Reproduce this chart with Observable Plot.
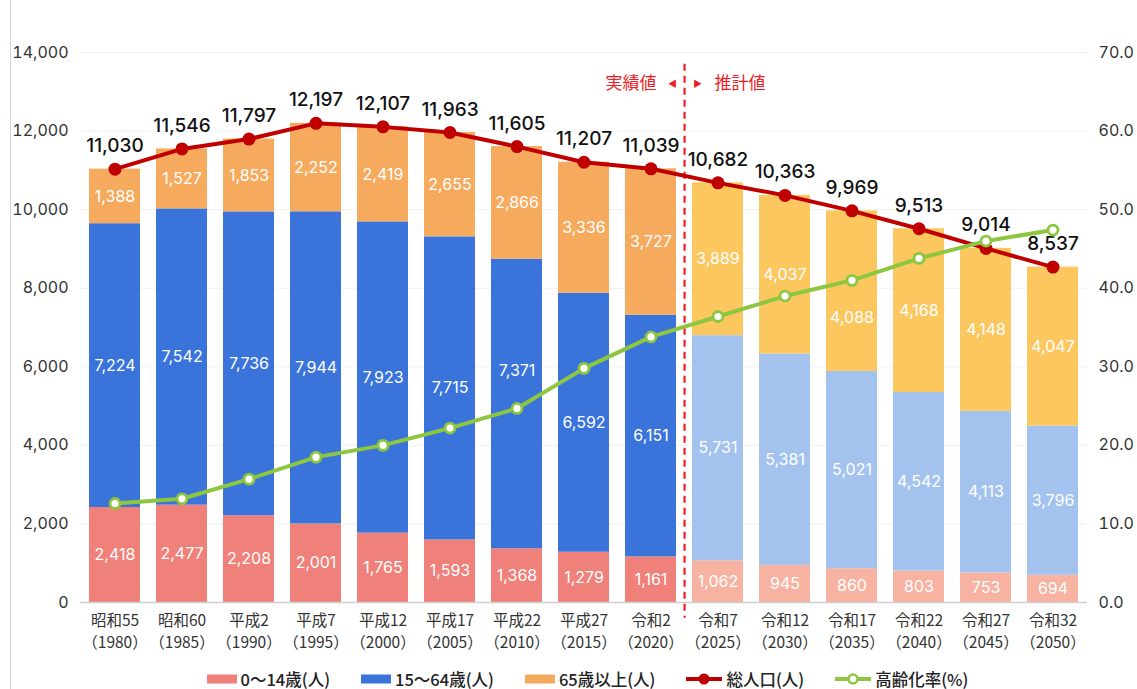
<!DOCTYPE html>
<html>
<head>
<meta charset="utf-8">
<script src="https://cdn.jsdelivr.net/npm/d3@7"></script>
<script src="https://cdn.jsdelivr.net/npm/@observablehq/plot@0.6"></script>
<style>
  html, body { margin: 0; padding: 0; background: #fff; }
  body { width: 1137px; height: 689px; position: relative; overflow: hidden;
         font-family: "Inter", "Noto Sans CJK JP", sans-serif; }
  #frame { position: absolute; left: 10px; top: 0; width: 1px; height: 689px; background: #d6d6d6; }
  #legend { position: absolute; left: 0; top: 670px; height: 18px; width: 1137px; display: flex; justify-content: center;
            align-items: center; gap: 31px; font-family: "Noto Sans CJK JP", sans-serif; font-size: 16.5px; font-weight: 500; color: #222; padding-left: 38px; box-sizing: border-box; line-height: 18px; }
  .item { display: flex; align-items: center; gap: 4px; white-space: nowrap; }
</style>
</head>
<body>
<div id="frame"></div>
<div id="chart"></div>
<div id="legend"></div>
<script>
const eras = ["昭和55","昭和60","平成2","平成7","平成12","平成17","平成22","平成27","令和2","令和7","令和12","令和17","令和22","令和27","令和32"];
const years = [1980,1985,1990,1995,2000,2005,2010,2015,2020,2025,2030,2035,2040,2045,2050];
const age0to14 = [2418,2477,2208,2001,1765,1593,1368,1279,1161,1062,945,860,803,753,694];
const age15to64 = [7224,7542,7736,7944,7923,7715,7371,6592,6151,5731,5381,5021,4542,4113,3796];
const age65plus = [1388,1527,1853,2252,2419,2655,2866,3336,3727,3889,4037,4088,4168,4148,4047];
const totalPop = [11030,11546,11797,12197,12107,11963,11605,11207,11039,10682,10363,9969,9513,9014,8537];
const agingRate = [12.6,13.2,15.7,18.5,20.0,22.2,24.7,29.8,33.8,36.4,39.0,41.0,43.8,46.0,47.4];
const yTicks = [0,2000,4000,6000,8000,10000,12000,14000];
const lastActual = "令和2";
const groupNames = ["0〜14歳(人)","15〜64歳(人)","65歳以上(人)"];

const pastColors = ["#F0807A","#3A74DA","#F6AA5E"];
const futureColors = ["#F7B2A2","#A3C3EE","#FBC75E"];
const red = "#C00000", green = "#8DC63F";

const W = 1137, H = 662, mL = 80, mR = 50, mT = 52, mB = 60;
const unitsPerPx = 14000 / (H - mT - mB);
const rateToY = r => r * 200; // 70% maps onto 14,000 (right axis)

const nActual = eras.indexOf(lastActual) + 1;
const rows = [];
eras.forEach((era, i) => {
  let base = 0;
  const g2 = rateToY(agingRate[i]);
  [age0to14, age15to64, age65plus].forEach((arr, g) => {
    const v = arr[i];
    const future = i >= nActual;
    let labelY = base + v / 2;
    // labels that would collide with the aging-rate line move clear of it, toward the roomier side
    if (Math.abs(labelY - g2) < 16 * unitsPerPx && g2 > base && g2 < base + v) {
      const up = (base + v - g2) > (g2 - base);
      labelY = g2 + (up ? 1 : -1) * 38 * unitsPerPx;
    }
    rows.push({era, g, value: v, color: future ? futureColors[g] : pastColors[g], labelY});
    base += v;
  });
});
const pts = eras.map((era, i) => ({era, year: years[i], total: totalPop[i], rate: agingRate[i]}));

const pad = 0.24;
const step = (W - mL - mR) / eras.length;
const fmt = d3.format(",");
const font = "Inter, 'Noto Sans CJK JP', sans-serif";
const cjk = "'Noto Sans CJK JP', sans-serif";

const chart = Plot.plot({
  width: W, height: H,
  marginLeft: mL, marginRight: mR, marginTop: mT, marginBottom: mB,
  style: {fontFamily: font, background: "white", overflow: "visible"},
  x: {domain: eras, padding: pad, paddingOuter: pad / 2, label: null},
  y: {domain: [0, 14000], label: null},
  marks: [
    Plot.gridY(yTicks, {stroke: "#e6e6e6", strokeOpacity: 0.6}),
    Plot.axisY(yTicks, {anchor: "left", tickSize: 0, tickPadding: 12, tickFormat: d => fmt(d), fontSize: 16, fill: "#333", label: null}),
    Plot.axisY(yTicks, {anchor: "right", tickSize: 0, tickPadding: 11, tickFormat: d => (d / 200).toFixed(1), fontSize: 16, fill: "#333", label: null}),
    Plot.axisX({tickSize: 0, tickPadding: 8, fontSize: 15.5, fill: "#333", lineHeight: 1.42, fontFamily: cjk,
      tickFormat: d => `${d}\n（${years[eras.indexOf(d)]}）`, label: null}),
    Plot.barY(rows, {x: "era", y: "value", fill: "color", order: "g"}),
    Plot.ruleY([0], {stroke: "#cfcfcf", strokeWidth: 1.5}),
    Plot.text(rows, {x: "era", y: "labelY", text: d => fmt(d.value), fill: "white", fontSize: 16}),
    Plot.ruleX([lastActual], {x: d => d, y1: 13700, y2: -400, dx: step / 2, stroke: "#EE1C25", strokeWidth: 2.2, strokeDasharray: "7,5"}),
    Plot.text(["実績値"], {x: () => lastActual, y: () => 13200, dx: step / 2 - 28, textAnchor: "end", fill: "#EE1C25", fontSize: 17, fontFamily: cjk}),
    Plot.text(["◀"], {x: () => lastActual, y: () => 13200, dx: step / 2 - 12, fill: "#EE1C25", fontSize: 9, fontFamily: cjk}),
    Plot.text(["▶"], {x: () => lastActual, y: () => 13200, dx: step / 2 + 13, fill: "#EE1C25", fontSize: 9, fontFamily: cjk}),
    Plot.text(["推計値"], {x: () => lastActual, y: () => 13200, dx: step / 2 + 30, textAnchor: "start", fill: "#EE1C25", fontSize: 17, fontFamily: cjk}),
    Plot.line(pts, {x: "era", y: "total", stroke: red, strokeWidth: 4}),
    Plot.dot(pts, {x: "era", y: "total", r: 6.5, fill: red}),
    Plot.text(pts, {x: "era", y: "total", text: d => fmt(d.total), dy: -23, fontSize: 19, fontWeight: 500, fill: "#111"}),
    Plot.line(pts, {x: "era", y: d => rateToY(d.rate), stroke: green, strokeWidth: 4}),
    Plot.dot(pts, {x: "era", y: d => rateToY(d.rate), r: 5, fill: "white", stroke: green, strokeWidth: 2.8})
  ]
});
document.getElementById("chart").appendChild(chart);

const legend = document.getElementById("legend");
const legendItems = [
  {label: groupNames[0], sw: `<svg width="30" height="10"><rect width="30" height="9" y="0.5" fill="${pastColors[0]}"/></svg>`},
  {label: groupNames[1], sw: `<svg width="30" height="10"><rect width="30" height="9" y="0.5" fill="${pastColors[1]}"/></svg>`},
  {label: groupNames[2], sw: `<svg width="30" height="10"><rect width="30" height="9" y="0.5" fill="${pastColors[2]}"/></svg>`},
  {label: "総人口(人)", sw: `<svg width="36" height="14"><line x1="0" x2="36" y1="7" y2="7" stroke="${red}" stroke-width="4"/><circle cx="18" cy="7" r="5.5" fill="${red}"/></svg>`},
  {label: "高齢化率(%)", sw: `<svg width="36" height="14"><line x1="0" x2="36" y1="7" y2="7" stroke="${green}" stroke-width="4"/><circle cx="18" cy="7" r="4.5" fill="white" stroke="${green}" stroke-width="2.5"/></svg>`}
];
legendItems.forEach(it => {
  const el = document.createElement("div");
  el.className = "item";
  el.innerHTML = it.sw + `<span>${it.label}</span>`;
  legend.appendChild(el);
});
</script>
</body>
</html>
